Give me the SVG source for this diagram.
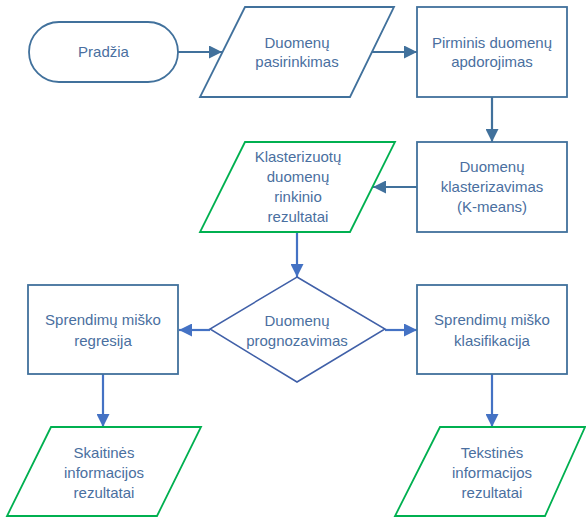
<svg xmlns="http://www.w3.org/2000/svg" width="586" height="517" viewBox="0 0 586 517">
<defs>
<style>
.bg{fill:#ffffff}
.sb{fill:#ffffff;stroke:#41719C;stroke-width:1.8}
.sd{fill:#ffffff;stroke:#4060A8;stroke-width:1.5}
.sg{fill:#ffffff;stroke:#00B050;stroke-width:1.8}
text{font-family:"Liberation Sans",Arial,sans-serif;font-size:15px;text-anchor:middle;fill:#4A6FA0}
.c1{fill:none;stroke:#41719C;stroke-width:2.2}
.c2{fill:none;stroke:#4472C4;stroke-width:2.2}
</style>
<marker id="a1" markerWidth="13" markerHeight="13" viewBox="0 0 13 13" refX="13" refY="6.5" orient="auto" markerUnits="userSpaceOnUse">
<path d="M0,0 L13,6.5 L0,13 Z" fill="#41719C"/>
</marker>
<marker id="a2" markerWidth="13" markerHeight="13" viewBox="0 0 13 13" refX="13" refY="6.5" orient="auto" markerUnits="userSpaceOnUse">
<path d="M0,0 L13,6.5 L0,13 Z" fill="#4472C4"/>
</marker>
</defs>
<rect class="bg" x="0" y="0" width="586" height="517"/>
<g id="connectors">
<line class="c1" x1="178" y1="52" x2="222" y2="52" marker-end="url(#a1)"/>
<line class="c1" x1="372" y1="52" x2="417" y2="52" marker-end="url(#a1)"/>
<line class="c1" x1="492" y1="97" x2="492" y2="142" marker-end="url(#a1)"/>
<line class="c1" x1="417" y1="187" x2="373" y2="187" marker-end="url(#a1)"/>
<line class="c2" x1="297" y1="232" x2="297" y2="277" marker-end="url(#a2)"/>
<line class="c2" x1="210" y1="330" x2="179" y2="330" marker-end="url(#a2)"/>
<line class="c2" x1="385" y1="330" x2="417" y2="330" marker-end="url(#a2)"/>
<line class="c2" x1="103" y1="374" x2="103" y2="427" marker-end="url(#a2)"/>
<line class="c2" x1="492" y1="374" x2="492" y2="427" marker-end="url(#a2)"/>
</g>
<g id="start">
<rect class="sb" x="29" y="22" width="149" height="60" rx="30" ry="30"/>
<text x="103.5" y="57">Pradžia</text>
</g>
<g id="input">
<polygon class="sb" points="245,7 394,7 350,97 200,97"/>
<text x="297" y="48">Duomenų</text>
<text x="297" y="67">pasirinkimas</text>
</g>
<g id="preprocess">
<rect class="sb" x="417" y="7" width="150" height="90"/>
<text x="492" y="48">Pirminis duomenų</text>
<text x="492" y="67">apdorojimas</text>
</g>
<g id="cluster">
<rect class="sb" x="417" y="142" width="150" height="90"/>
<text x="492" y="172">Duomenų</text>
<text x="492" y="192">klasterizavimas</text>
<text x="492" y="212">(K-means)</text>
</g>
<g id="clusterResult">
<polygon class="sg" points="245,142 395,142 350,232 200,232"/>
<text x="298" y="162">Klasterizuotų</text>
<text x="298" y="182">duomenų</text>
<text x="298" y="202">rinkinio</text>
<text x="298" y="222">rezultatai</text>
</g>
<g id="decision">
<polygon class="sd" points="297,277 385,329 297,382 210,329"/>
<text x="297" y="326">Duomenų</text>
<text x="297" y="346">prognozavimas</text>
</g>
<g id="regression">
<rect class="sb" x="28" y="285" width="150" height="89"/>
<text x="103" y="325">Sprendimų miško</text>
<text x="103" y="346">regresija</text>
</g>
<g id="classification">
<rect class="sb" x="417" y="285" width="150" height="89"/>
<text x="492" y="325">Sprendimų miško</text>
<text x="492" y="346">klasifikacija</text>
</g>
<g id="numResult">
<polygon class="sg" points="51,427 201,427 157,516 7,516"/>
<text x="104" y="458">Skaitinės</text>
<text x="104" y="478">informacijos</text>
<text x="104" y="498">rezultatai</text>
</g>
<g id="textResult">
<polygon class="sg" points="440,427 585,427 545,516 395,516"/>
<text x="492" y="458">Tekstinės</text>
<text x="492" y="478">informacijos</text>
<text x="492" y="498">rezultatai</text>
</g>
</svg>
